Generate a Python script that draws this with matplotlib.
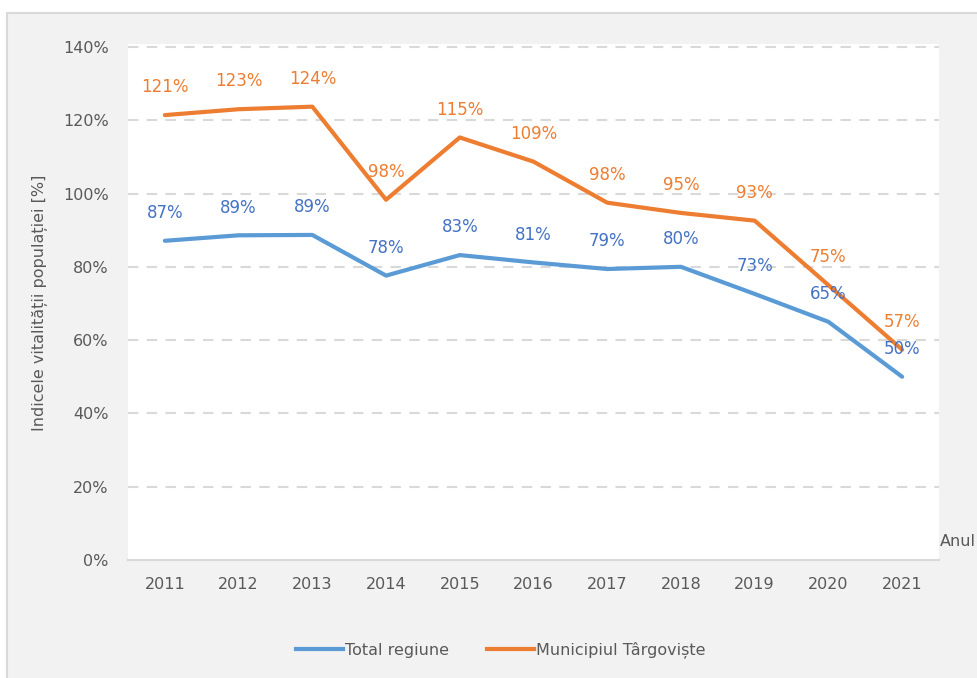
import matplotlib
matplotlib.use("Agg")
import matplotlib.pyplot as plt
from matplotlib.patches import Rectangle
from matplotlib.lines import Line2D

years = ["2011", "2012", "2013", "2014", "2015", "2016", "2017", "2018", "2019", "2020", "2021"]
total_regiune = [87.1, 88.6, 88.7, 77.6, 83.2, 81.2, 79.4, 80.0, 72.6, 65.0, 50.0]
targoviste = [121.4, 123.0, 123.7, 98.3, 115.3, 108.7, 97.5, 94.7, 92.6, 75.0, 57.4]
yticks = [0, 20, 40, 60, 80, 100, 120, 140]

W, H = 977, 678
fig = plt.figure(figsize=(W / 100, H / 100), dpi=100)
fig.patch.set_facecolor("white")
# outer chart-area background with border
fig.patches.append(Rectangle((7 / W, -0.05), 1.0, 1.05 - 13 / H, transform=fig.transFigure,
                             facecolor="#f2f2f2", edgecolor="#d9d9d9", linewidth=1.5, zorder=-10))

ax = fig.add_axes([128 / W, 1 - 560 / H, (939 - 128) / W, (560 - 44) / H])
ax.set_zorder(1)
ax.set_facecolor("white")
x = list(range(len(years)))
ax.plot(x, total_regiune, color="#5B9BD5", lw=3.0, solid_capstyle="round", zorder=3)
ax.plot(x, targoviste, color="#ED7D31", lw=3.0, solid_capstyle="round", zorder=3)

for xi, v in zip(x, total_regiune):
    ax.annotate(f"{v:.0f}%", (xi, v), xytext=(0, 20), textcoords="offset points",
                ha="center", va="center", color="#4472C4", fontsize=12, zorder=4)
for xi, v in zip(x, targoviste):
    ax.annotate(f"{v:.0f}%", (xi, v), xytext=(0, 20), textcoords="offset points",
                ha="center", va="center", color="#ED7D31", fontsize=12, zorder=4)

ax.set_xlim(-0.5, len(years) - 0.5)
ax.set_ylim(0, 140.8)
ax.set_yticks(yticks)
ax.set_yticklabels([f"{t}%" for t in yticks])
ax.set_xticks(x)
ax.set_xticklabels(years)
ax.tick_params(axis="both", length=0, colors="#595959", labelsize=11.5)
ax.tick_params(axis="x", pad=12)
ax.tick_params(axis="y", pad=14)
for t in yticks[1:]:
    ax.axhline(t, color="#d9d9d9", lw=1.5, ls=(0, (5, 4)), zorder=1)
for s in ["top", "right", "left"]:
    ax.spines[s].set_visible(False)
ax.spines["bottom"].set_color("#d9d9d9")
ax.spines["bottom"].set_linewidth(1.5)

fig.text(40 / W, 1 - 303 / H, "Indicele vitalității populației [%]", rotation=90,
         ha="center", va="center", color="#595959", fontsize=11.5)
fig.text(940 / W, 1 - 541 / H, "Anul", ha="left", va="center", color="#595959", fontsize=11.5)

handles = [Line2D([], [], color="#5B9BD5", lw=3.0),
           Line2D([], [], color="#ED7D31", lw=3.0)]
leg = fig.legend(handles, ["Total regiune", "Municipiul Târgoviște"], loc="center",
                 bbox_to_anchor=(501 / W, 1 - 650 / H), ncol=2, frameon=False,
                 fontsize=11.5, handlelength=2.9, handletextpad=0.15, columnspacing=2.4)
for t in leg.get_texts():
    t.set_color("#595959")

fig.savefig("out.png", dpi=100, facecolor=fig.get_facecolor())
